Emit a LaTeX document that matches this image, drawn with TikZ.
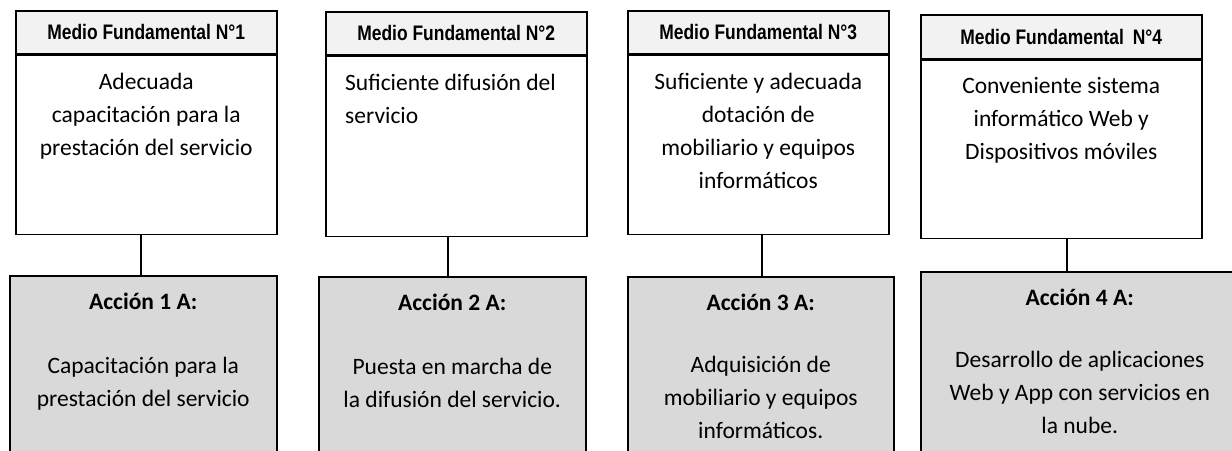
\documentclass[tikz,border=0pt]{standalone}
\usepackage{fontspec}
\setmainfont{Carlito}
\newfontfamily\headfont[FakeStretch=0.83]{Liberation Sans}
\usetikzlibrary{positioning}

\definecolor{headgray}{HTML}{F2F2F2}
\definecolor{actgray}{HTML}{D9D9D9}

\begin{document}
\begin{tikzpicture}[x=1pt, y=-1pt,
head/.style={draw, line width=1.5pt, fill=headgray, minimum height=43pt, inner sep=0pt, anchor=north west, font=\headfont\bfseries\fontsize{21}{24}\selectfont},
body/.style={draw, line width=1.5pt, fill=white, inner sep=0pt},
act/.style={draw, line width=1.5pt, fill=actgray, minimum height=220pt, inner sep=0pt, anchor=north west},
txt/.style={inner sep=0pt, align=center, font=\fontsize{23.5}{33}\selectfont},
link/.style={line width=1.5pt}]

\def\tgap{18pt}	% gap box top - text
\def\agap{18pt}

\useasboundingbox (0,0) rectangle (1232,450);
\clip (0,0) rectangle (1232,450);

% Medios fundamentales
\node[head, minimum width=261pt] (h1) at (15,10) {Medio Fundamental N°1};
\node[body, minimum width=261pt, minimum height=179pt, below=0pt of h1] (b1) {};
\node[head, minimum width=261pt] (h2) at (325,11) {Medio Fundamental N°2};
\node[body, minimum width=261pt, minimum height=180pt, below=0pt of h2] (b2) {};
\node[head, minimum width=261pt] (h3) at (627,10) {Medio Fundamental N°3};
\node[body, minimum width=261pt, minimum height=179pt, below=0pt of h3] (b3) {};
\node[head, minimum width=281pt, minimum height=44pt] (h4) at (920,14) {Medio Fundamental\hspace{4pt} N°4};
\node[body, minimum width=281pt, minimum height=178pt, below=0pt of h4] (b4) {};

\node[txt, below=\tgap of b1.north] (t1) {Adecuada\\capacitación para la\\prestación del servicio};
\node[txt, align=left, below right=\tgap and 20pt of b2.north west] (t2) {Suficiente difusión del\\servicio};
\node[txt, below=\tgap of b3.north] (t3) {Suficiente y adecuada\\dotación de\\mobiliario y equipos\\informáticos};
\node[txt, below=\tgap of b4.north] (t4) {Conveniente sistema\\informático Web y\\Dispositivos móviles};

% Acciones
\node[act, minimum width=267pt] (a1) at (9,275) {};
\node[act, minimum width=267pt] (a2) at (318,276) {};
\node[act, minimum width=266pt] (a3) at (627,276) {};
\node[act, minimum width=318pt] (a4) at (920,271) {};

\node[txt, below=\agap of a1.north] (c1) {\textbf{Acción 1 A:}\\[31pt]Capacitación para la\\prestación del servicio};
\node[txt, below=\agap of a2.north] (c2) {\textbf{Acción 2 A:}\\[31pt]Puesta en marcha de\\la difusión del servicio.};
\node[txt, below=\agap of a3.north] (c3) {\textbf{Acción 3 A:}\\[29pt]Adquisición de\\mobiliario y equipos\\informáticos.};
\node[txt, below=\agap of a4.north] (c4) {\textbf{Acción 4 A:}\\[29pt]Desarrollo de aplicaciones\\Web y App con servicios en\\la nube.};

\coordinate (k1) at ([xshift=-5.5pt]b1.south);
\coordinate (k2) at ([xshift=-8.5pt]b2.south);
\coordinate (k3) at ([xshift=3.5pt]b3.south);
\coordinate (k4) at ([xshift=5.5pt]b4.south);
\foreach \i in {1,...,4}
  \draw[link] (k\i) -- (k\i |- a\i.north);

\end{tikzpicture}
\end{document}
